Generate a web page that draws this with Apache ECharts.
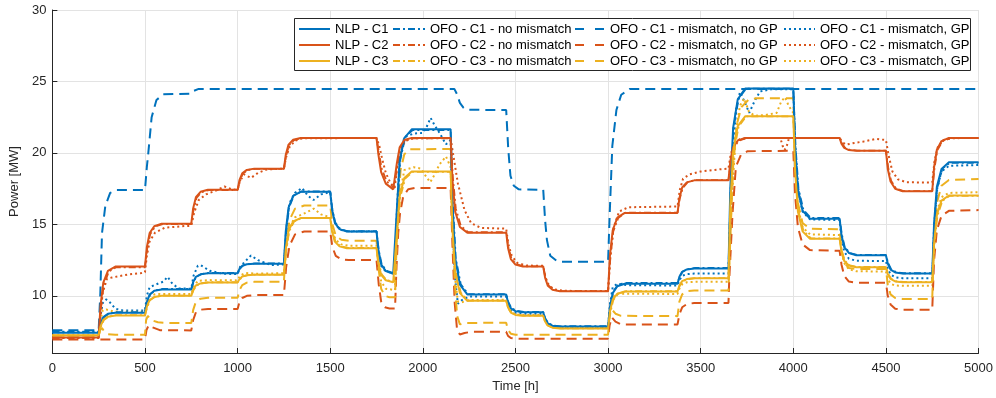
<!DOCTYPE html>
<html>
<head>
<meta charset="utf-8">
<script src="https://cdn.jsdelivr.net/npm/echarts@6/dist/echarts.min.js"></script>
<style>html,body{margin:0;padding:0;background:#fff}#c{width:996px;height:398px}</style>
</head>
<body>
<div id="c"></div>
<script>
// ---- legend / series names ----
const namesNLP = ['NLP - C1', 'NLP - C2', 'NLP - C3'];
const namesNoMis = ['OFO - C1 - no mismatch', 'OFO - C2 - no mismatch', 'OFO - C3 - no mismatch'];
const namesMis = ['OFO - C1 - mismatch, no GP', 'OFO - C2 - mismatch, no GP', 'OFO - C3 - mismatch, no GP'];
const namesGP = ['OFO - C1 - mismatch, GP', 'OFO - C2 - mismatch, GP', 'OFO - C3 - mismatch, GP'];

// ---- tick labels ----
const yTicks = [10, 15, 20, 25, 30];

// ---- time samples [h] for NLP curves ----
const tNlp = [0,
250,260,275,300,340, 500,510,525,550,590, 750,760,775,800,840, 1000,1010,1025,1050,1090,
1250,1260,1275,1300,1340, 1500,1510,1525,1550,1590, 1750,1760,1775,1800,1840, 1850,1860,1875,1900,1940,
2150,2160,2175,2200,2240, 2450,2460,2475,2500,2540, 2650,2660,2675,2700,2740, 3000,3010,3025,3050,3090,
3375,3385,3400,3425,3465, 3650,3660,3675,3700,3740, 4000,4010,4025,4050,4090, 4250,4260,4275,4300,4340,
4500,4510,4525,4550,4590, 4750,4760,4775,4800,4840, 5000];

const nlpC1 = [7.42,
7.42,8.05,8.51,8.74,8.82, 8.82,9.55,10.09,10.35,10.45, 10.45,10.96,11.33,11.51,11.58, 11.58,11.88,12.1,12.21,12.25,
12.25,14.51,16.17,17.0,17.28, 17.28,16.03,15.11,14.67,14.5, 14.5,13.17,12.2,11.73,11.55, 11.55,16.1,19.43,21.04,21.65,
21.65,16.45,12.64,10.79,10.1, 10.1,9.54,9.13,8.93,8.85, 8.85,8.4,8.07,7.91,7.85, 7.85,9.2,10.19,10.67,10.85,
10.85,11.33,11.68,11.85,11.92, 11.92,17.58,21.73,23.75,24.5, 24.5,20.4,17.4,15.95,15.4, 15.4,14.25,13.4,13.0,12.84,
12.84,12.26,11.84,11.64,11.56, 11.56,15.07,17.64,18.88,19.35, 19.35];

const nlpC2 = [7.08,
7.08,9.32,10.93,11.75,12.05, 12.05,13.4,14.39,14.87,15.05, 15.05,16.12,16.9,17.28,17.42, 17.42,18.09,18.57,18.81,18.9,
18.9,19.87,20.58,20.92,21.05, 21.05,21.05,21.05,21.05,21.05, 21.05,19.9,18.65,17.85,17.45, 17.42,19.3,20.4,20.9,21.05,
21.05,18.07,15.88,14.82,14.42, 14.42,13.35,12.57,12.19,12.05, 12.05,11.27,10.7,10.42,10.32, 10.32,12.79,14.59,15.47,15.8,
15.8,16.83,17.58,17.94,18.08, 18.08,19.42,20.4,20.87,21.05, 21.05,21.05,21.05,21.05,21.05, 21.05,20.65,20.35,20.2,20.15,
20.15,18.88,18.0,17.49,17.32, 17.32,19.0,20.23,20.83,21.05, 21.05];

const nlpC3 = [7.25,
7.25,7.87,8.32,8.54,8.62, 8.62,9.24,9.7,9.92,10.0, 10.0,10.42,10.73,10.87,10.93, 10.93,11.17,11.35,11.44,11.47,
11.47,13.26,14.57,15.2,15.44, 15.44,14.49,13.79,13.46,13.33, 13.33,12.26,11.47,11.09,10.95, 10.95,14.44,16.99,18.24,18.7,
18.7,14.63,11.64,10.19,9.65, 9.65,9.18,8.83,8.66,8.6, 8.6,8.2,7.91,7.77,7.72, 7.72,8.88,9.73,10.15,10.3,
10.3,10.72,11.03,11.17,11.23, 11.23,16.33,20.07,21.88,22.56, 22.56,18.71,15.88,14.51,14.0, 14.0,13.1,12.44,12.12,12.0,
12.0,11.53,11.18,11.01,10.95, 10.95,13.68,15.68,16.66,17.02, 17.02];

// ---- time samples [h] for OFO without mismatch ----
const tOfo = [0,
250,262,278,305,345, 500,512,528,555,595, 750,762,778,805,845, 1000,1012,1028,1055,1095,
1250,1262,1278,1305,1345, 1500,1512,1528,1555,1595, 1750,1762,1778,1805,1845, 1850,1862,1878,1905,1945,
2150,2162,2178,2205,2245, 2450,2462,2478,2505,2545, 2650,2662,2678,2705,2745, 3000,3012,3028,3055,3095,
3375,3387,3403,3430,3470, 3650,3662,3678,3705,3745, 4000,4012,4028,4055,4095, 4250,4262,4278,4305,4345,
4500,4512,4528,4555,4595, 4750,4762,4778,4805,4845, 5000];

const noMisC1 = [7.5,
7.5,8.0,8.5,8.75,8.85, 8.85,9.5,10.1,10.38,10.48, 10.48,10.95,11.35,11.52,11.6, 11.6,11.9,12.12,12.22,12.27,
12.27,14.4,16.2,17.05,17.3, 17.3,16.0,15.1,14.68,14.52, 14.52,13.2,12.2,11.75,11.58, 11.58,16.0,19.5,21.1,21.6,
21.6,16.5,12.6,10.8,10.12, 10.12,9.55,9.15,8.95,8.87, 8.87,8.4,8.08,7.92,7.87, 7.87,9.3,10.3,10.8,10.9,
10.9,11.35,11.7,11.87,11.95, 11.95,17.5,21.8,23.8,24.5, 24.5,20.5,17.5,16.0,15.45, 15.45,14.3,13.4,13.0,12.86,
12.86,12.3,11.86,11.66,11.58, 11.58,15.0,17.6,18.9,19.3, 19.3];

const noMisC2 = [7.05,
7.05,9.1,10.8,11.7,12.0, 12.0,13.3,14.3,14.85,15.02, 15.02,16.0,16.85,17.25,17.4, 17.4,18.0,18.55,18.8,18.88,
18.88,19.8,20.55,20.9,21.03, 21.03,21.03,21.03,21.03,21.03, 21.03,20.1,18.9,18.0,17.55, 17.5,19.1,20.3,20.85,21.02,
21.02,18.3,16.1,14.9,14.45, 14.45,13.4,12.6,12.2,12.06, 12.06,11.3,10.72,10.43,10.33, 10.33,12.6,14.5,15.45,15.82,
15.82,16.8,17.55,17.95,18.1, 18.1,19.3,20.35,20.85,21.03, 21.03,21.03,21.03,21.03,21.03, 21.03,20.7,20.38,20.22,20.16,
20.16,19.0,18.05,17.5,17.33, 17.33,18.9,20.2,20.8,21.03, 21.03];

const noMisC3 = [7.22,
7.22,7.85,8.3,8.55,8.65, 8.65,9.2,9.7,9.93,10.02, 10.02,10.4,10.72,10.88,10.95, 10.95,11.15,11.35,11.45,11.48,
11.48,13.1,14.5,15.2,15.45, 15.45,14.55,13.8,13.47,13.35, 13.35,12.3,11.5,11.1,10.97, 10.97,14.3,16.9,18.2,18.68,
18.68,14.8,11.7,10.22,9.67, 9.67,9.2,8.85,8.67,8.62, 8.62,8.22,7.92,7.78,7.73, 7.73,8.8,9.7,10.15,10.32,
10.32,10.7,11.02,11.17,11.24, 11.24,16.2,20.0,21.85,22.55, 22.55,18.8,15.9,14.55,14.02, 14.02,13.15,12.46,12.13,12.02,
12.02,11.55,11.2,11.02,10.97, 10.97,13.6,15.6,16.65,17.0, 17.0];

// ---- OFO with mismatch, no GP: [time, power] ----
const misC1 = [[0,7.6],[250,7.6],[259,10.2],[268,14.4],[286,16.3],[312,17.2],[348,17.4],[500,17.4],
[510,19.0],[518,20.0],[536,22.5],[562,23.7],[598,24.1],[750,24.15],[765,24.35],[790,24.48],
[2170,24.48],[2185,24.1],[2200,23.5],[2220,23.15],[2250,23.02],[2450,23.0],
[2461,20.3],[2473,18.4],[2491,17.7],[2518,17.45],[2650,17.42],
[2660,15.3],[2670,13.9],[2688,12.8],[2723,12.44],[2750,12.38],[3000,12.38],
[3009,15.8],[3023,20.5],[3045,23.0],[3071,24.07],[3116,24.47],[5000,24.48]];

const misC2 = [[0,6.95],[250,6.95],[500,6.95],[508,7.6],[520,7.95],[540,7.8],[580,7.6],[750,7.58],
[760,8.3],[775,8.85],[800,9.03],[840,9.08],[1000,9.08],
[1010,9.55],[1025,9.85],[1050,10.0],[1090,10.05],[1250,10.05],
[1262,12.0],[1280,13.5],[1310,14.3],[1360,14.5],[1500,14.5],
[1512,13.4],[1530,12.8],[1560,12.55],[1600,12.5],[1750,12.5],
[1762,10.8],[1775,9.6],[1795,9.2],[1820,9.12],[1850,9.12],
[1858,12.05],[1867,14.38],[1877,15.78],[1894,16.95],[1921,17.46],[1960,17.55],[2150,17.55],
[2160,13.5],[2172,9.5],[2185,7.6],[2200,7.3],[2225,7.4],[2260,7.48],[2450,7.48],
[2460,7.2],[2475,7.05],[2500,7.0],[3000,7.0],
[3008,7.9],[3020,8.5],[3040,8.2],[3070,8.0],[3375,8.0],
[3385,8.7],[3400,9.2],[3425,9.42],[3465,9.5],[3650,9.5],
[3654,11.1],[3672,15.78],[3690,19.04],[3717,19.86],[3753,20.12],[4000,20.15],
[4010,17.0],[4025,14.8],[4050,13.6],[4090,13.2],[4250,13.15],
[4260,12.2],[4275,11.4],[4300,11.0],[4340,10.92],[4500,10.92],
[4510,10.0],[4525,9.4],[4550,9.1],[4590,9.02],[4750,9.02],
[4760,12.5],[4775,14.6],[4800,15.6],[4840,15.95],[5000,16.0]];

const misC3 = [[0,7.2],[250,7.2],[258,7.6],[268,7.75],[280,7.5],[300,7.32],[340,7.28],[500,7.28],
[506,8.3],[515,8.6],[535,8.3],[570,8.15],[620,8.1],[750,8.1],
[760,9.0],[775,9.6],[800,9.8],[840,9.86],[1000,9.86],
[1010,10.4],[1025,10.75],[1050,10.92],[1090,10.98],[1250,10.98],
[1262,13.5],[1280,15.3],[1310,16.1],[1360,16.32],[1500,16.32],
[1512,15.0],[1530,14.2],[1560,13.92],[1600,13.86],[1750,13.86],
[1762,11.8],[1775,10.5],[1795,10.0],[1820,9.9],[1850,9.9],
[1858,13.5],[1867,16.5],[1880,18.8],[1900,19.9],[1930,20.25],[2150,20.28],
[2160,15.5],[2172,11.0],[2185,8.6],[2200,8.0],[2225,8.1],[2450,8.12],
[2460,7.6],[2475,7.35],[2500,7.28],[3000,7.28],
[3008,8.6],[3020,9.05],[3040,8.75],[3070,8.6],[3375,8.58],
[3385,9.6],[3400,10.1],[3425,10.32],[3465,10.38],[3650,10.38],
[3660,14.0],[3675,19.0],[3695,22.0],[3720,23.2],[3760,23.75],[3800,23.82],[4000,23.82],
[4010,19.5],[4025,16.5],[4050,15.1],[4090,14.7],[4250,14.65],
[4260,13.2],[4275,12.3],[4300,11.95],[4340,11.88],[4500,11.88],
[4510,10.8],[4525,10.1],[4550,9.85],[4590,9.78],[4750,9.78],
[4760,14.0],[4775,16.5],[4800,17.7],[4840,18.1],[5000,18.18]];

// ---- OFO with mismatch and GP: [time, power] ----
const gpC1 = [[0,7.45],[250,7.45],[260,8.6],[272,9.5],[290,9.75],[310,9.55],[340,9.1],[380,8.98],[500,8.98],
[510,10.0],[525,10.6],[560,10.8],[600,11.0],[622,11.33],[645,10.9],[680,10.52],[750,10.5],
[762,11.4],[785,12.1],[800,12.15],[850,11.75],[920,11.55],[1000,11.52],
[1012,12.0],[1040,12.4],[1072,12.82],[1110,12.5],[1180,12.15],[1250,12.2],
[1262,14.6],[1280,16.5],[1310,17.2],[1348,17.55],[1380,17.0],[1410,16.7],[1450,17.1],[1500,17.25],
[1512,15.9],[1530,14.95],[1560,14.6],[1600,14.5],[1750,14.5],
[1762,13.0],[1775,12.1],[1800,11.7],[1850,11.6],
[1860,16.0],[1875,19.6],[1900,21.1],[1950,21.35],[2000,21.4],[2020,21.8],[2042,22.45],[2065,21.9],[2090,21.4],[2125,20.6],[2150,20.9],
[2160,15.5],[2172,11.5],[2189,9.45],[2210,9.7],[2250,9.95],[2450,9.95],
[2460,9.4],[2475,9.0],[2500,8.8],[2540,8.75],[2650,8.75],
[2660,8.3],[2675,7.98],[2700,7.82],[2740,7.78],[3000,7.78],
[3010,9.4],[3025,10.6],[3050,10.85],[3100,10.75],[3375,10.72],
[3385,11.1],[3400,11.4],[3425,11.52],[3465,11.56],[3650,11.56],
[3665,17.0],[3690,23.0],[3712,24.25],[3740,23.5],[3762,22.8],[3790,23.6],[3820,24.3],[3880,24.45],[4000,24.45],
[4010,20.5],[4025,17.5],[4050,15.9],[4090,15.35],[4250,15.3],
[4260,14.0],[4275,13.1],[4300,12.6],[4340,12.45],[4500,12.44],
[4510,11.9],[4525,11.5],[4550,11.3],[4590,11.23],[4750,11.23],
[4760,14.8],[4775,17.4],[4800,18.7],[4840,19.1],[5000,19.15]];

const gpC2 = [[0,7.05],[250,7.05],[259,8.4],[271,10.2],[295,11.2],[321,11.28],[411,11.5],[482,11.6],[500,11.65],
[510,12.8],[525,13.8],[554,14.42],[607,14.77],[714,14.88],[750,14.9],
[765,15.8],[790,16.7],[830,17.1],[880,17.35],[929,17.65],[970,17.45],[1000,17.42],
[1012,18.0],[1035,18.5],[1072,18.25],[1110,18.6],[1160,18.85],[1250,18.9],
[1262,19.7],[1280,20.4],[1310,20.85],[1350,21.02],[1750,21.05],
[1765,20.5],[1780,19.6],[1800,18.6],[1825,17.9],[1848,17.55],
[1862,19.0],[1880,20.2],[1905,20.85],[1950,21.02],[2150,21.05],
[2165,19.8],[2189,17.88],[2225,16.0],[2261,15.08],[2314,14.75],[2450,14.7],
[2462,13.6],[2480,12.8],[2510,12.3],[2560,12.12],[2650,12.1],
[2662,11.3],[2680,10.75],[2710,10.45],[2760,10.35],[3000,10.33],
[3012,12.8],[3030,14.8],[3060,15.9],[3110,16.2],[3375,16.25],
[3387,17.4],[3405,18.2],[3440,18.5],[3500,18.7],[3600,18.85],[3650,18.9],
[3662,19.9],[3680,20.6],[3710,20.95],[3760,21.05],[3930,21.05],[3942,20.5],[3953,20.2],[3965,20.5],[3977,21.05],[4250,21.05],
[4265,20.75],[4286,20.58],[4330,20.7],[4380,20.8],[4446,20.98],[4500,20.9],
[4515,19.8],[4535,18.7],[4565,18.15],[4610,17.95],[4750,17.92],
[4762,19.4],[4780,20.4],[4810,20.9],[4860,21.03],[5000,21.05]];

const gpC3 = [[0,7.25],[250,7.25],[260,8.3],[272,9.0],[290,9.05],[330,8.9],[400,8.88],[500,8.88],
[510,9.6],[525,10.0],[560,10.12],[750,10.12],
[762,10.6],[785,11.05],[850,11.1],[1000,11.08],
[1012,11.4],[1040,11.6],[1100,11.55],[1250,11.58],
[1262,13.2],[1280,14.8],[1310,15.5],[1350,15.7],[1411,16.1],[1450,15.7],[1500,15.5],
[1512,14.5],[1530,13.9],[1560,13.6],[1600,13.5],[1750,13.5],
[1762,12.0],[1775,11.0],[1800,10.5],[1850,10.4],
[1860,14.0],[1875,17.0],[1900,18.8],[1950,19.0],[1990,18.9],[2020,18.3],[2040,17.95],[2060,18.4],[2090,19.2],[2125,19.75],[2140,19.3],[2150,19.0],
[2160,14.5],[2172,11.5],[2189,9.6],[2210,9.55],[2250,9.7],[2450,9.72],
[2460,9.2],[2475,8.85],[2500,8.7],[2540,8.66],[2650,8.66],
[2660,8.2],[2675,7.92],[2700,7.78],[2740,7.75],[3000,7.75],
[3010,9.0],[3025,9.9],[3050,10.15],[3100,10.15],[3375,10.13],
[3385,10.5],[3400,10.8],[3425,10.95],[3465,10.98],[3650,10.98],
[3665,16.0],[3690,21.5],[3712,23.3],[3735,23.8],[3760,22.9],[3790,22.6],[3850,22.65],[3910,22.8],[3935,23.6],[3955,23.9],[3975,23.3],[4000,22.8],
[4010,19.0],[4025,16.2],[4050,14.8],[4090,14.3],[4250,14.25],
[4260,13.1],[4275,12.3],[4300,11.85],[4340,11.72],[4500,11.7],
[4510,11.2],[4525,10.85],[4550,10.72],[4590,10.7],[4750,10.7],
[4760,13.8],[4775,15.9],[4800,16.9],[4840,17.2],[5000,17.25]];

// ---- build chart ----
const colors = ['#0072BD', '#D95319', '#EDB120'];
const FONT = '"Liberation Sans", Arial, Helvetica, sans-serif';
const zip = (t, v) => t.map((x, i) => [x, v[i]]);

const DASH = [10, 6];
const DOT = [2, 3];
const DASHDOT = [7, 3, 2, 3];

const series = [];
function add(name, data, color, type, width, z) {
  series.push({
    name, type: 'line', data, symbol: 'none', showSymbol: false,
    lineStyle: { color, width, type }, itemStyle: { color }, z,
    emphasis: { disabled: true }, silent: true
  });
}
[gpC1, gpC2, gpC3].forEach((d, i) => add(namesGP[i], d, colors[i], DOT, 2, 2));
[misC1, misC2, misC3].forEach((d, i) => add(namesMis[i], d, colors[i], DASH, 2, 3));
[noMisC1, noMisC2, noMisC3].forEach((v, i) => add(namesNoMis[i], zip(tOfo, v), colors[i], DASHDOT, 1.8, 4));
[nlpC1, nlpC2, nlpC3].forEach((v, i) => add(namesNLP[i], zip(tNlp, v), colors[i], 'solid', 2, 5));

function legendCol(names, left, itemWidth, extra) {
  return Object.assign({
    data: names, orient: 'vertical', left, top: 22, padding: 0,
    itemGap: 2, itemWidth, itemHeight: 14, z: 60, selectedMode: false,
    itemStyle: { opacity: 0, borderWidth: 0 },
    textStyle: { fontFamily: FONT, fontSize: 13, color: '#000', lineHeight: 14 }
  }, extra || {});
}

const chart = echarts.init(document.getElementById('c'), null, { renderer: 'canvas' });
chart.setOption({
  animation: false,
  backgroundColor: '#fff',
  grid: { left: 47, right: 17, top: 10, bottom: 45, containLabel: false },
  xAxis: {
    type: 'value', min: 0, max: 5000, interval: 500,
    name: 'Time [h]', nameLocation: 'middle', nameGap: 27,
    nameTextStyle: { fontFamily: FONT, fontSize: 13, color: '#262626' },
    axisLine: { show: true, onZero: false, lineStyle: { color: '#262626', width: 1 } },
    axisTick: { show: true, inside: true, length: 5, lineStyle: { color: '#262626' } },
    axisLabel: { fontFamily: FONT, fontSize: 13, color: '#262626', margin: 9, formatter: v => String(v) },
    splitLine: { show: true, lineStyle: { color: '#e3e3e3', width: 1 } }
  },
  yAxis: {
    type: 'value', min: 6, max: 30,
    name: 'Power [MW]', nameLocation: 'middle', nameGap: 21, nameRotate: 90,
    nameTextStyle: { fontFamily: FONT, fontSize: 13, color: '#262626' },
    axisLine: { show: true, onZero: false, lineStyle: { color: '#262626', width: 1 } },
    axisTick: { show: true, inside: true, length: 5, customValues: yTicks, lineStyle: { color: '#262626' } },
    axisLabel: { fontFamily: FONT, fontSize: 13, color: '#262626', margin: 6, customValues: yTicks, formatter: v => String(v) },
    splitLine: { show: true, lineStyle: { color: '#e3e3e3', width: 1 } }
  },
  graphic: [{
    type: 'rect', z: 50, silent: true,
    shape: { x: 294.5, y: 18.5, width: 676, height: 52 },
    style: { fill: '#fff', stroke: '#262626', lineWidth: 1 }
  }],
  legend: [
    legendCol(namesNLP, 298, 31),
    legendCol(namesNoMis, 392, 32),
    legendCol(namesMis, 574, 30, { lineStyle: { type: [9, 11] } }),
    legendCol(namesGP, 783, 31)
  ],
  series
});
</script>
</body>
</html>
